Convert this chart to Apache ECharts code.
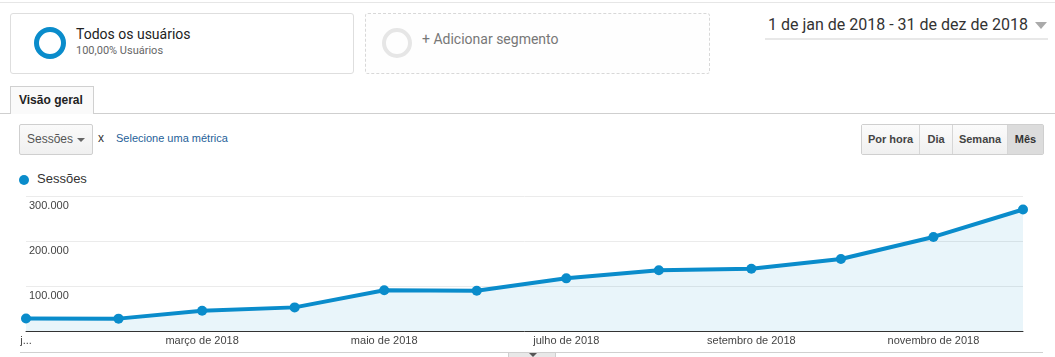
<!DOCTYPE html>
<html>
<head>
<meta charset="utf-8">
<script src="https://cdn.jsdelivr.net/npm/echarts@6/dist/echarts.min.js"></script>
<style>
  html,body{margin:0;padding:0;background:#fff;width:1055px;height:357px;overflow:hidden;}
  body{position:relative;font-family:Roboto,"Liberation Sans",Arial,sans-serif;}
  .abs{position:absolute;}
  .topline{left:0;top:2px;width:1055px;height:1px;background:#e6e6e6;}
  .seg{left:10px;top:13px;width:344px;height:61px;border:1px solid #dedede;border-radius:3px;box-sizing:border-box;}
  .seg2{left:365px;top:13px;width:345px;height:61px;border:1px dashed #d8d8d8;border-radius:3px;box-sizing:border-box;background:#fefefe;}
  .ring{width:22px;height:22px;border-radius:50%;box-sizing:content-box;}
  .tabline{left:0;top:113px;width:1055px;height:1px;background:#cfcfcf;}
  .tab{left:10px;top:86px;width:84px;height:28px;border:1px solid #d0d0d0;border-bottom:none;background:#fafafa;box-sizing:border-box;font-family:"Liberation Sans",Arial,sans-serif;font-weight:bold;font-size:12px;color:#222;line-height:27px;padding-left:8px;}
  .dd{left:19px;top:124px;width:74px;height:31px;border:1px solid #cfcfcf;border-radius:2px;box-sizing:border-box;background:linear-gradient(#fafafa,#f0f0f0);font-family:"Liberation Sans",Arial,sans-serif;font-size:12px;color:#555;line-height:29px;padding-left:7px;}
  .btns{left:861px;top:124px;height:31px;display:flex;border:1px solid #cfcfcf;border-radius:2px;box-sizing:border-box;font-family:"Liberation Sans",Arial,sans-serif;font-weight:bold;font-size:11px;color:#444;}
  .btns div{height:29px;line-height:29px;text-align:center;border-right:1px solid #d6d6d6;background:linear-gradient(#fbfbfb,#f0f0f0);}
  .btns div:last-child{border-right:none;background:#dcdcdc;color:#333;}
  #chart{position:absolute;left:0;top:185px;width:1055px;height:162px;}
</style>
</head>
<body>
<div class="abs topline"></div>

<div class="abs seg"></div>
<div class="abs ring" style="left:34px;top:27px;border:5px solid #0a8ccb;width:22px;height:22px;"></div>
<div class="abs" style="left:76px;top:26px;font-size:14px;color:#222;">Todos os usuários</div>
<div class="abs" style="left:76px;top:44px;font-size:11px;color:#666;">100,00% Usuários</div>

<div class="abs seg2"></div>
<div class="abs ring" style="left:382px;top:28px;border:4px solid #e6e6e6;width:22px;height:22px;"></div>
<div class="abs" style="left:422px;top:31px;font-size:14px;color:#777;">+ Adicionar segmento</div>

<div class="abs" style="left:768px;top:15px;font-size:16px;color:#333;">1 de jan de 2018 - 31 de dez de 2018</div>
<div class="abs" style="left:1035px;top:22px;width:0;height:0;border-left:6px solid transparent;border-right:6px solid transparent;border-top:7px solid #aaa;"></div>
<div class="abs" style="left:765px;top:38px;width:283px;height:2px;background:#e8e8e8;"></div>

<div class="abs tabline"></div>
<div class="abs tab">Visão geral</div>

<div class="abs dd">Sessões<span style="position:absolute;left:57px;top:13px;width:0;height:0;border-left:4px solid transparent;border-right:4px solid transparent;border-top:4px solid #666;"></span></div>
<div class="abs" style="left:98px;top:131px;font-family:'Liberation Sans',Arial,sans-serif;font-size:12px;color:#333;">x</div>
<div class="abs" style="left:116px;top:132px;font-family:'Liberation Sans',Arial,sans-serif;font-size:11px;color:#1f5f99;">Selecione uma métrica</div>

<div class="abs btns">
  <div style="width:57px;">Por hora</div>
  <div style="width:32px;">Dia</div>
  <div style="width:54px;">Semana</div>
  <div style="width:35px;">Mês</div>
</div>

<div class="abs" style="left:19px;top:175px;width:10px;height:10px;border-radius:50%;background:#0a8ccb;"></div>
<div class="abs" style="left:37px;top:171px;font-family:'Liberation Sans',Arial,sans-serif;font-size:13px;color:#333;">Sessões</div>

<div id="chart"></div>

<div class="abs" style="left:20px;top:352px;width:1023px;height:1px;background:#d0d0d0;"></div>
<div class="abs" style="left:508px;top:352px;width:48px;height:5px;background:#e8e8e8;border:1px solid #cfcfcf;border-bottom:none;box-sizing:border-box;"></div>
<div class="abs" style="left:529px;top:353px;width:0;height:0;border-left:4px solid transparent;border-right:4px solid transparent;border-top:4px solid #555;"></div>

<script>
var seriesName = 'Sessões';
var months = ['2018-01-01','2018-02-01','2018-03-01','2018-04-01','2018-05-01','2018-06-01',
              '2018-07-01','2018-08-01','2018-09-01','2018-10-01','2018-11-01','2018-12-01'];
var sessions = [27800, 27500, 45000, 52500, 90400, 89600, 117000, 135000, 138500, 160000, 209000, 270000];
var labelMonths = ['2018-01-01','2018-03-01','2018-05-01','2018-07-01','2018-09-01','2018-11-01'];
var labelTexts = ['j...','março de 2018','maio de 2018','julho de 2018','setembro de 2018','novembro de 2018'];
var yTicks = [0, 100000, 200000, 300000];

// day offset from the first month (data conversion of the date strings)
function dayOf(s){ var p = s.split('-'); return Math.round((Date.UTC(+p[0], +p[1]-1, +p[2]) - Date.UTC(2018,0,1)) / 86400000); }
var labelDays = labelMonths.map(dayOf);

var chart = echarts.init(document.getElementById('chart'));
chart.setOption({
  animation:false,
  grid:{left:26, right:32, top:11, bottom:16},
  xAxis:{
    type:'value',
    min: dayOf(months[0]),
    max: dayOf(months[months.length-1]),
    silent:true,
    axisLine:{show:true, onZero:false, lineStyle:{color:'#333', width:1}},
    axisTick:{show:false},
    splitLine:{show:false},
    axisLabel:{
      customValues: labelDays,
      margin:4,
      color:'#444',
      fontSize:11,
      fontFamily:'Liberation Sans',
      formatter:function(v){
        var i = labelDays.indexOf(v);
        return i >= 0 ? labelTexts[i] : '';
      }
    }
  },
  yAxis:{
    type:'value',
    min:yTicks[0], max:yTicks[yTicks.length-1], interval:yTicks[1]-yTicks[0],
    silent:true,
    axisLine:{show:false}, axisTick:{show:false},
    splitLine:{lineStyle:{color:'#ebebeb', width:1}},
    axisLabel:{
      inside:true, align:'left', verticalAlign:'top', margin:3,
      padding:[4,0,0,0],
      color:'#444', fontSize:11,
      fontFamily:'Liberation Sans',
      formatter:function(v){
        if (v === 0) return '';
        return v.toString().replace(/\B(?=(\d{3})+(?!\d))/g, '.');
      }
    }
  },
  series:[{
    name: seriesName,
    type:'line',
    silent:true,
    data: months.map(function(m,i){ return [dayOf(m), sessions[i]]; }),
    symbol:'circle',
    symbolSize:10,
    lineStyle:{color:'#0a8ccb', width:4},
    itemStyle:{color:'#0a8ccb'},
    areaStyle:{color:'rgba(10,140,203,0.13)'}
  }]
});
</script>
</body>
</html>
